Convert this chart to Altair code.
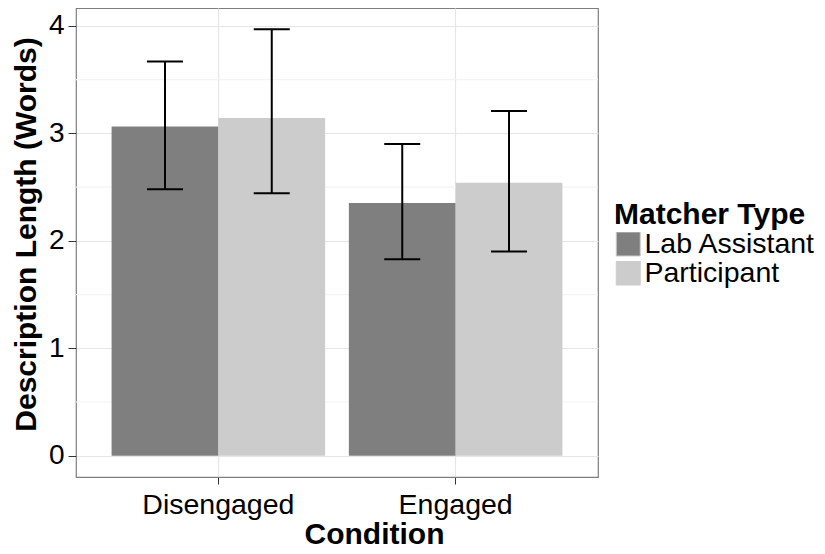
import altair as alt
import pandas as pd

conditions = ["Disengaged", "Disengaged", "Engaged", "Engaged"]
matcher = ["Lab Assistant", "Participant", "Lab Assistant", "Participant"]
means = [3.063, 3.144, 2.353, 2.540]
lower = [2.480, 2.443, 1.829, 1.900]
upper = [3.668, 3.969, 2.902, 3.209]

y_ticks = [0, 1, 2, 3, 4]
minor_ticks = [0.5, 1.5, 2.5, 3.5]
matcher_domain = ["Lab Assistant", "Participant"]
matcher_colors = ["#7f7f7f", "#cccccc"]

df = pd.DataFrame({
    "Condition": conditions,
    "Matcher Type": matcher,
    "Mean": means,
    "Lower": lower,
    "Upper": upper,
})
minor_df = pd.DataFrame({"v": minor_ticks})

FONT = "Liberation Sans"
YTITLE = "Description Length (Words)"
yscale = alt.Scale(domain=[-0.198, 4.167], nice=False, zero=False)

yaxis = alt.Axis(
    values=y_ticks, format="d", grid=True, gridColor="#e6e6e6", gridWidth=1.2,
    domain=False, tickColor="#333333", tickSize=8, tickWidth=1,
    labelFontSize=28, labelColor="#000000", labelPadding=4, labelFont=FONT,
    title=YTITLE, titleFontSize=30, titleFont=FONT, titleFontWeight="bold",
    titleColor="#000000", titleAngle=270, titleX=-41, titleY=226,
    titleBaseline="alphabetic", titleAlign="center",
)

xaxis = alt.Axis(
    grid=True, gridColor="#e6e6e6", gridWidth=1.2, domain=False,
    tickColor="#333333", tickSize=7, tickWidth=1, labelAngle=0,
    labelFontSize=28.5, labelColor="#000000", labelFont=FONT,
    labelBaseline="alphabetic", labelPadding=29,
    title="Condition", titleFontSize=30, titleFont=FONT, titleFontWeight="bold",
    titleColor="#000000", titleX=298, titleY=66, titleBaseline="alphabetic",
    titleAlign="center",
)

xenc = alt.X("Condition:N", scale=alt.Scale(paddingInner=0.1, paddingOuter=0.15), axis=xaxis)
xoff = alt.XOffset("Matcher Type:N", scale=alt.Scale(domain=matcher_domain, paddingInner=0, paddingOuter=0))

minor = alt.Chart(minor_df).mark_rule(color="#f4f4f4", strokeWidth=1.2).encode(
    y=alt.Y("v:Q", scale=yscale, title=YTITLE)
)

base = alt.Chart(df).encode(x=xenc, xOffset=xoff)

bars = base.mark_bar().encode(
    y=alt.Y("Mean:Q", scale=yscale, axis=yaxis),
    y2=alt.datum(0),
    color=alt.Color(
        "Matcher Type:N",
        scale=alt.Scale(domain=matcher_domain, range=matcher_colors),
        legend=alt.Legend(
            title="Matcher Type", orient="none", legendX=538, legendY=192,
            padding=0, symbolType="square", symbolSize=576,
            symbolStrokeColor="#cccccc", symbolStrokeWidth=1,
            titleFontSize=30, titleFont=FONT, titleFontWeight="bold",
            titleColor="#000000", titlePadding=2, rowPadding=0,
            clipHeight=24, titleLimit=0, labelLimit=0,
            labelFontSize=28.5, labelFont=FONT, labelColor="#000000",
            labelOffset=2,
        ),
    ),
)

rules = base.mark_rule(color="#000000", strokeWidth=2).encode(
    y=alt.Y("Lower:Q", scale=yscale, title=YTITLE), y2="Upper:Q"
)
cap_lo = base.mark_tick(orient="horizontal", size=36, thickness=2, color="#000000", opacity=1).encode(
    y=alt.Y("Lower:Q", scale=yscale, title=YTITLE)
)
cap_hi = base.mark_tick(orient="horizontal", size=36, thickness=2, color="#000000", opacity=1).encode(
    y=alt.Y("Upper:Q", scale=yscale, title=YTITLE)
)

chart = alt.layer(minor, bars, rules, cap_lo, cap_hi).properties(
    width=522, height=469,
    autosize=alt.AutoSizeParams(type="none"),
    padding={"left": 68, "top": 0, "right": 219, "bottom": 69},
    background="white",
).configure_view(stroke="#7f7f7f", strokeWidth=1.2)

chart.save("out.html", embed_options={"renderer": "svg", "actions": False})
